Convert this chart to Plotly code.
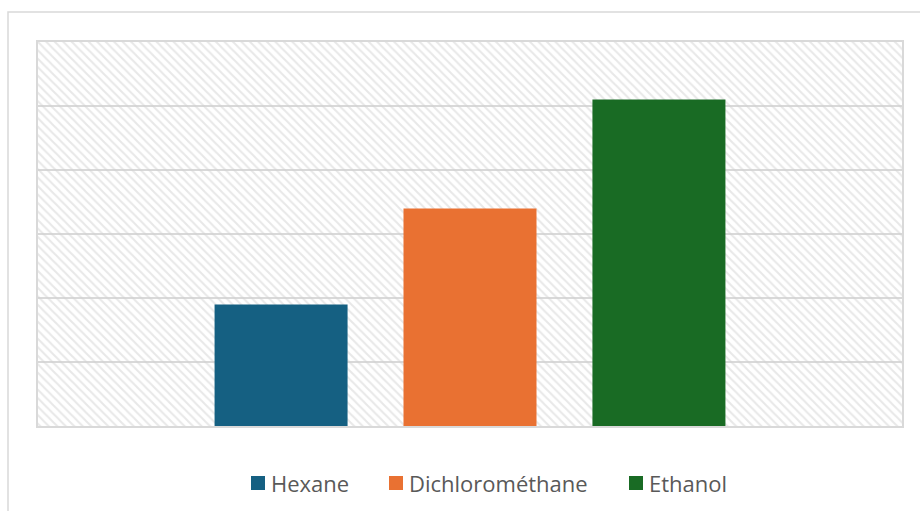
import plotly.graph_objects as go

series = ["Hexane", "Dichlorométhane", "Ethanol"]
values = [1.9, 3.4, 5.1]
colors = ["#156082", "#E97132", "#196B24"]
category = [0]
y_max = 6
grid_step = 1

# layout geometry (pixels)
W, H = 920, 511
ML, MR, MT, MB = 38, 18, 42, 85
PW, PH = W - ML - MR, H - MT - MB
legend_square_left = [251, 389, 629]
legend_y = 483
square = 14


def px_x(x):
    return (x - ML) / PW


def px_y(y):
    return (H - MB - y) / PH


fig = go.Figure()

# hatched plot-area background (decoration) on the main subplot
fig.add_trace(go.Scatter(
    x=[-0.5, 0.5, 0.5, -0.5, -0.5], y=[0, 0, y_max, y_max, 0],
    mode="lines", line=dict(width=0), fill="toself",
    fillcolor="rgba(0,0,0,0)",
    fillpattern=dict(shape="\\", fgcolor="#d2d2d2", bgcolor="rgba(0,0,0,0)",
                     size=6, solidity=0.35),
    showlegend=False, hoverinfo="skip", xaxis="x", yaxis="y"))

# bars on an overlaying subplot so they are drawn above the hatch
for name, v, c in zip(series, values, colors):
    fig.add_trace(go.Bar(x=category, y=[v], name=name, xaxis="x2", yaxis="y2",
                         showlegend=False,
                         marker=dict(color=c, line=dict(width=0))))

shapes = [dict(type="rect", xref="paper", yref="paper",
               x0=px_x(8), x1=1.2, y0=-0.5, y1=px_y(12),
               line=dict(color="#d9d9d9", width=1.5), fillcolor="rgba(0,0,0,0)", layer="below")]
annotations = []
for name, c, sx in zip(series, colors, legend_square_left):
    shapes.append(dict(type="rect", xref="paper", yref="paper",
                       x0=px_x(sx), x1=px_x(sx + square),
                       y0=px_y(legend_y + square / 2), y1=px_y(legend_y - square / 2),
                       line=dict(width=0), fillcolor=c))
    annotations.append(dict(text=name, xref="paper", yref="paper",
                            x=px_x(sx + square + 4), y=px_y(legend_y),
                            xanchor="left", yanchor="middle", showarrow=False,
                            font=dict(family="Open Sans", size=22, color="#595959")))

axis_common = dict(showticklabels=False, zeroline=False, ticks="")
fig.update_layout(
    width=W, height=H,
    margin=dict(l=ML, r=MR, t=MT, b=MB),
    paper_bgcolor="white", plot_bgcolor="white",
    barmode="group", bargap=0.344, bargroupgap=0.296,
    showlegend=False,
    xaxis=dict(range=[-0.5, 0.5], showgrid=False,
               showline=True, mirror=True, linecolor="#d9d9d9", linewidth=1.5, **axis_common),
    yaxis=dict(range=[0, y_max], dtick=grid_step, showgrid=True,
               gridcolor="#d9d9d9", gridwidth=1.5,
               showline=True, mirror=True, linecolor="#d9d9d9", linewidth=1.5, **axis_common),
    xaxis2=dict(range=[-0.5, 0.5], overlaying="x", showgrid=False, showline=False, **axis_common),
    yaxis2=dict(range=[0, y_max], overlaying="y", showgrid=False, showline=False, **axis_common),
    shapes=shapes,
    annotations=annotations,
)

fig.write_html("out.html")
